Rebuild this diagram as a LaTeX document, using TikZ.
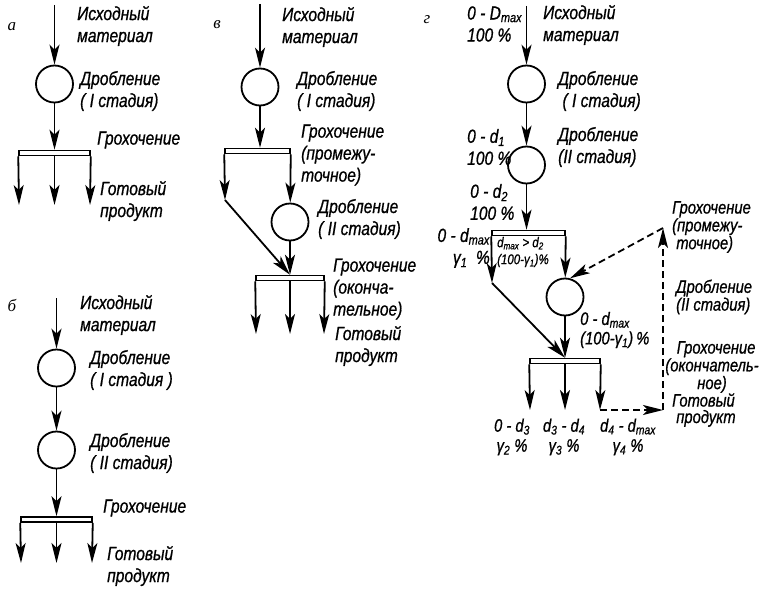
\documentclass[tikz,border=0pt]{standalone}
\usepackage{fontspec}
\setmainfont{Liberation Sans}
\newfontfamily\gost{Liberation Sans}[FakeStretch=0.82, FakeBold=0.8]
\newfontfamily\letterfont{Liberation Serif}
\usetikzlibrary{arrows.meta}

\begin{document}
\begin{tikzpicture}[
		x=1pt, y=-1pt,
		crusher/.style={circle, draw, line width=1.8pt, minimum size=37pt, inner sep=0pt},
		screen/.style={rectangle, draw, fill=white, line width=1.5pt, minimum height=5pt, inner sep=0pt},
		note/.style={anchor=west, align=left, inner sep=0pt, font=\gost\itshape\fontsize{19}{22}\selectfont},
		smallnote/.style={note, font=\gost\itshape\fontsize{18}{16.5}\selectfont},
		tinynote/.style={note, font=\gost\itshape\fontsize{14}{17}\selectfont},
		cutlabel/.style={note, anchor=center, align=center, font=\gost\itshape\fontsize{18}{20}\selectfont},
		panel/.style={inner sep=0pt, font=\letterfont\itshape\fontsize{17}{20}\selectfont},
		arrow/.style={line width=1.8pt, -{Stealth[length=20pt,width=10pt,inset=5pt]}},
		back/.style={arrow, dash pattern=on 7pt off 4pt}
	]
	\useasboundingbox (0,0) rectangle (767,594);

	% Схема а
	\node[panel] (aLet) at (12,27) {а};
	\coordinate (aIn) at (54.5,5);
	\node[crusher] (aCr) at (54.5,84) {};
	\node[screen, minimum width=71pt] (aScr) at (54.5,153) {};
	\coordinate (aP1) at (19,205);
	\coordinate (aP2) at (54.5,205);
	\coordinate (aP3) at (90,205);
	\node[note] (aSrc) at (77,26) {Исходный\\материал};
	\node[note] (aTxt1) at (80,91) {Дробление\\( I стадия)};
	\node[note] (aTxt2) at (97,140) {Грохочение};
	\node[note] (aOut) at (100,201) {Готовый\\продукт};

	\draw[arrow] (aIn) -- (aCr);
	\draw[arrow] (aCr) -- (aScr);
	\draw[arrow] (aScr.south west) -- (aP1);
	\draw[arrow] (aScr.south) -- (aP2);
	\draw[arrow] (aScr.south east) -- (aP3);

	% Схема б
	\node[panel] (bLet) at (12,305) {б};
	\coordinate (bIn) at (56.5,298);
	\node[crusher] (bCr1) at (56.5,368) {};
	\node[crusher] (bCr2) at (56.5,450) {};
	\node[screen, minimum width=71pt] (bScr) at (56.5,519.5) {};
	\coordinate (bP1) at (21,563);
	\coordinate (bP2) at (56.5,563);
	\coordinate (bP3) at (92,563);
	\node[note] (bSrc) at (80,315) {Исходный\\материал};
	\node[note] (bTxt1) at (90,370) {Дробление\\( I стадия )};
	\node[note] (bTxt2) at (90,453) {Дробление\\( II стадия)};
	\node[note] (bTxt3) at (103,508) {Грохочение};
	\node[note] (bOut) at (107,566) {Готовый\\продукт};

	\draw[arrow] (bIn) -- (bCr1);
	\draw[arrow] (bCr1) -- (bCr2);
	\draw[arrow] (bCr2) -- (bScr);
	\draw[arrow] (bScr.south west) -- (bP1);
	\draw[arrow] (bScr.south) -- (bP2);
	\draw[arrow] (bScr.south east) -- (bP3);

	% Схема в
	\node[panel] (vLet) at (217,25) {в};
	\coordinate (vIn) at (260,4);
	\node[crusher] (vCr1) at (260,87) {};
	\node[screen, minimum width=65pt] (vScr1) at (257.5,151) {};
	\coordinate (vL) at (225,200);
	\node[crusher] (vCr2) at (290,222) {};
	\node[screen, minimum width=68pt] (vScr2) at (290,278) {};
	\coordinate (vP1) at (256,334);
	\coordinate (vP2) at (290,334);
	\coordinate (vP3) at (324,334);
	\node[note] (vSrc) at (282,27) {Исходный\\материал};
	\node[note] (vTxt1) at (297,91) {Дробление\\( I стадия)};
	\node[note] (vTxt2) at (301,155) {Грохочение\\(промежу-\\точное)};
	\node[note] (vTxt3) at (318,219) {Дробление\\( II стадия)};
	\node[note] (vTxt4) at (333,289) {Грохочение\\(оконча-\\тельное)};
	\node[note] (vOut) at (335,346) {Готовый\\продукт};

	\draw[arrow] (vIn) -- (vCr1);
	\draw[arrow] (vCr1) -- (vCr1 |- vScr1.north);
	\draw[arrow] (vScr1.south west) -- (vL);
	\draw[arrow] (vScr1.south east) -- (vCr2);
	\draw[arrow] (vL) -- (vScr2.north);
	\draw[arrow] (vCr2) -- (vScr2);
	\draw[arrow] (vScr2.south west) -- (vP1);
	\draw[arrow] (vScr2.south) -- (vP2);
	\draw[arrow] (vScr2.south east) -- (vP3);

	% Схема г
	\node[panel] (gLet) at (427,20) {г};
	\coordinate (gIn) at (526.5,6);
	\node[crusher] (gCr1) at (526.5,84) {};
	\node[crusher] (gCr2) at (526.5,165) {};
	\node[screen, minimum width=73pt] (gScr1) at (528.5,233) {};
	\coordinate (gL) at (492,283);
	\node[crusher] (gCr3) at (565,297) {};
	\node[screen, minimum width=70pt] (gScr2) at (565,361) {};
	\coordinate (gP1) at (530,410);
	\coordinate (gP2) at (565,410);
	\coordinate (gP3) at (600,410);
	\coordinate (gCorner) at (663,410);
	\coordinate (gTop) at (663,228);

	\node[note] (gSize0) at (467,24) {0 - D\textsubscript{max}\\100 \%};
	\node[note] (gSrc) at (543,25) {Исходный\\материал};
	\node[note] (gTxt1) at (558,91) {Дробление\\\ ( I стадия)};
	\node[note] (gSize1) at (467,147) {0 - d\textsubscript{1}\\100 \%};
	\node[note] (gTxt2) at (558,147) {Дробление\\(II стадия)};
	\node[note] (gSize2) at (470,202) {0 - d\textsubscript{2}\\100 \%};
	\node[note, anchor=east, align=right] (gFine1) at (490,248) {0 - d\textsubscript{max}\\γ\textsubscript{1}\ \ \%};
	\node[tinynote] (gCoarse1) at (497,252) {d\textsubscript{max} > d\textsubscript{2}\\(100-γ\textsubscript{1})\%};
	\node[note, font=\gost\itshape\fontsize{18}{19.5}\selectfont] (gCrushed) at (580,330) {0 - d\textsubscript{max}\\(100-γ\textsubscript{1})\,\%};
	\node[cutlabel] (gCut1) at (512,437) {0 - d\textsubscript{3}\\γ\textsubscript{2} \%};
	\node[cutlabel] (gCut2) at (564,437) {d\textsubscript{3} - d\textsubscript{4}\\γ\textsubscript{3} \%};
	\node[cutlabel] (gCut3) at (628,437) {d\textsubscript{4} - d\textsubscript{max}\\γ\textsubscript{4} \%};
	\node[smallnote] (gTxt3) at (672,227) {Грохочение\\(промежу-\\\ точное)};
	\node[smallnote] (gTxt4) at (676,297) {Дробление\\(II стадия)};
	\node[smallnote, anchor=center, align=center] (gTxt5) at (712,367) {\ \ Грохочение\\(окончатель-\\ное)};
	\node[smallnote] (gOut) at (672,410) {Готовый\\\ продукт};

	\draw[arrow] (gIn) -- (gCr1);
	\draw[arrow] (gCr1) -- (gCr2);
	\draw[arrow] (gCr2) -- (gCr2 |- gScr1.north);
	\draw[arrow] (gScr1.south west) -- (gL);
	\draw[arrow] (gScr1.south east) -- (gCr3);
	\draw[arrow] (gL) -- (gScr2.north);
	\draw[arrow] (gCr3) -- (gScr2);
	\draw[arrow] (gScr2.south west) -- (gP1);
	\draw[arrow] (gScr2.south) -- (gP2);
	\draw[arrow] (gScr2.south east) -- (gP3);

	\draw[back] (gP3) -- (gCorner);
	\draw[back] (gCorner) -- (gTop);
	\draw[back] (gTop) -- (gCr3.75);
\end{tikzpicture}
\end{document}
